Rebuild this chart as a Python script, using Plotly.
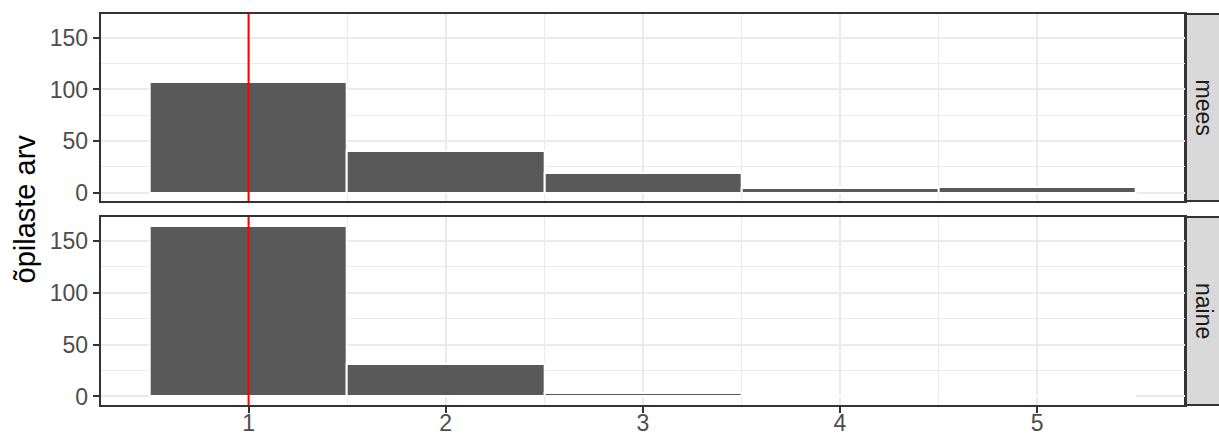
import plotly.graph_objects as go

W, H = 1219, 436
categories = [1, 2, 3, 4, 5]
mees = [107, 40, 19, 4, 5]
naine = [165, 31, 3, 0, 0]
panel_labels = ["mees", "naine"]
y_ticks = [0, 50, 100, 150]
x_ticks = [1, 2, 3, 4, 5]
ref_line_x = 1

# pixel layout
left, right = 100.7, 1185
top_panel = (14, 201)
bot_panel = (217, 405)

def py(p):
    return 1 - p / H

FONT = "Liberation Sans, Arial, sans-serif"

fig = go.Figure()
for vals, xa, ya in [(mees, "x", "y"), (naine, "x2", "y2")]:
    fig.add_trace(go.Bar(x=categories, y=vals, width=1, xaxis=xa, yaxis=ya,
                         marker=dict(color="#595959", line=dict(color="white", width=2)),
                         showlegend=False, hoverinfo="x+y"))

tick_font = dict(family=FONT, size=23, color="#4D4D4D")
common_x = dict(range=[0.25, 5.75], tickvals=x_ticks, showgrid=True, gridcolor="#EBEBEB", gridwidth=1.6,
                minor=dict(tickvals=[1.5, 2.5, 3.5, 4.5], showgrid=True, gridcolor="#EBEBEB", gridwidth=0.8, ticks=""),
                showline=True, mirror=True, linecolor="#333333", linewidth=2,
                ticks="outside", ticklen=6, tickwidth=2, tickcolor="#333333", automargin=False,
                zeroline=False, tickfont=tick_font, domain=[left / W, right / W], fixedrange=True)
common_y = dict(range=[-8.25, 173.25], tickvals=y_ticks, showgrid=True, gridcolor="#EBEBEB", gridwidth=1.6,
                minor=dict(tickvals=[25, 75, 125], showgrid=True, gridcolor="#EBEBEB", gridwidth=0.8, ticks=""),
                showline=True, mirror=True, linecolor="#333333", linewidth=2,
                ticks="outside", ticklen=6, tickwidth=2, tickcolor="#333333", automargin=False,
                zeroline=False, tickfont=tick_font, fixedrange=True)

fig.update_layout(
    width=W, height=H, margin=dict(l=0, r=0, t=0, b=0, autoexpand=False),
    paper_bgcolor="white", plot_bgcolor="white", bargap=0,
    xaxis=dict(common_x, anchor="y", showticklabels=False, ticks=""),
    xaxis2=dict(common_x, anchor="y2", ticklabelstandoff=-10),
    yaxis=dict(common_y, anchor="x", domain=[py(top_panel[1]), py(top_panel[0])]),
    yaxis2=dict(common_y, anchor="x2", domain=[py(bot_panel[1]), py(bot_panel[0])]),
)

shapes = []
for ya, xa in [("y", "x"), ("y2", "x2")]:
    shapes.append(dict(type="line", xref=xa, x0=ref_line_x, x1=ref_line_x,
                       yref=f"{ya} domain", y0=0, y1=1, line=dict(color="red", width=2)))
annotations = []
for (t, b), lab in zip([top_panel, bot_panel], panel_labels):
    shapes.append(dict(type="rect", xref="paper", yref="paper", x0=right / W, x1=1.002,
                       y0=py(b), y1=py(t), fillcolor="#D9D9D9", line=dict(color="#333333", width=2),
                       layer="below"))
    annotations.append(dict(text=lab, xref="paper", yref="paper", x=(right + W) / 2 / W + 2 / W,
                            y=py((t + b) / 2), showarrow=False, textangle=90,
                            font=dict(family=FONT, size=23, color="#1A1A1A"),
                            xanchor="center", yanchor="middle"))
annotations.append(dict(text="õpilaste arv", xref="paper", yref="paper", x=25 / W,
                        y=py((top_panel[0] + bot_panel[1]) / 2), showarrow=False, textangle=-90,
                        font=dict(family=FONT, size=29, color="black"),
                        xanchor="center", yanchor="middle"))
fig.update_layout(shapes=shapes, annotations=annotations)
fig.write_html("out.html", config={"displayModeBar": False},
               post_script="document.body.style.margin='0';document.body.style.padding='0';document.body.style.overflow='hidden';")
